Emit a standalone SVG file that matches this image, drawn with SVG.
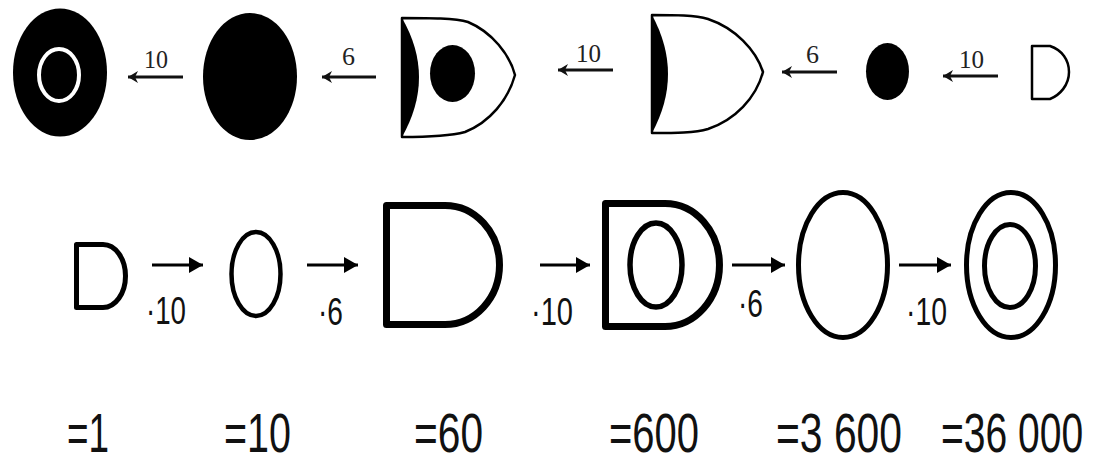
<svg xmlns="http://www.w3.org/2000/svg" width="1097" height="464" viewBox="0 0 1097 464">
<style>
.blk{fill:#000}
.ol{fill:#fff;stroke:#000;stroke-linejoin:round}
.ring{fill:none;stroke:#000}
.lt{font-family:"Liberation Serif",serif;font-size:26px;fill:#222}
.lb{font-family:"Liberation Sans",Arial,sans-serif;font-size:38px;fill:#111}
.val{font-family:"Liberation Sans",Arial,sans-serif;font-size:55px;fill:#111}
.at{stroke:#111;stroke-width:3;fill:none}
.ab{stroke:#000;stroke-width:3;fill:none}
</style>
<defs>
<marker id="ht" markerUnits="userSpaceOnUse" markerWidth="10" markerHeight="12" viewBox="0 0 10 12" refX="10" refY="6" orient="auto"><path d="M0,0 L10,6 L0,12 L3,6 Z" fill="#111"/></marker>
<marker id="hb" markerUnits="userSpaceOnUse" markerWidth="14" markerHeight="16" viewBox="0 0 14 16" refX="14" refY="8" orient="auto"><path d="M0,0 L14,8 L0,16 Z" fill="#000"/></marker>
</defs>
<rect width="1097" height="464" fill="#fff"/>

<g id="top1"><ellipse class="blk" cx="60" cy="72.5" rx="47" ry="64"/><ellipse cx="59" cy="75" rx="20" ry="26" fill="none" stroke="#fff" stroke-width="4"/></g>
<g id="top2"><ellipse class="blk" cx="250" cy="76.5" rx="47" ry="63.5"/></g>
<g id="top3"><path class="ol" stroke-width="2.5" d="M402,18 C430,18 455,18 468,22 C492,32 510,55 515,75 C508,100 490,122 465,132 C450,136 430,137 402,137 Z"/><path class="blk" d="M402,18 Q436,77 402,137 Z"/><ellipse class="blk" cx="452.5" cy="73.5" rx="22.5" ry="28.5"/></g>
<g id="top4"><path class="ol" stroke-width="2.5" d="M652,15 C675,15 695,15 708,19 C735,28 756,50 763,72 C756,98 735,120 708,129 C695,133 675,133 652,133 Z"/><path class="blk" d="M652,15 Q684,74 652,133 Z"/></g>
<g id="top5"><ellipse class="blk" cx="887.5" cy="71.5" rx="21.5" ry="28.5"/></g>
<g id="top6"><path class="ol" stroke-width="2.5" d="M1032,46 L1050,46 C1062,50 1069,60 1069,72 C1069,85 1060,95 1050,99 L1032,99 Z"/></g>

<g id="bot1"><path class="ol" stroke-width="5" d="M76.5,244.5 H103 A22.5,31.5 0 0 1 103,307.5 H76.5 Z"/></g>
<g id="bot2"><ellipse class="ring" stroke-width="4.5" cx="256" cy="274" rx="24.5" ry="42"/></g>
<g id="bot3"><path class="ol" stroke-width="7" d="M386.5,205.5 H445 A54.5,59.5 0 0 1 445,324.5 H386.5 Z"/></g>
<g id="bot4"><path class="ol" stroke-width="7" d="M605.5,203.5 H665 A54.5,61.5 0 0 1 665,326.5 H605.5 Z"/><ellipse class="ring" stroke-width="5.5" cx="656" cy="265" rx="26" ry="42"/></g>
<g id="bot5"><ellipse class="ring" stroke-width="5" cx="843" cy="265" rx="44.5" ry="72.5"/></g>
<g id="bot6"><ellipse class="ring" stroke-width="5" cx="1011" cy="265" rx="44.5" ry="72.5"/><ellipse class="ring" stroke-width="5" cx="1010" cy="266" rx="25.5" ry="41.5"/></g>

<g id="connectors">
<line class="at" x1="183" y1="77" x2="128" y2="77" marker-end="url(#ht)"/>
<line class="at" x1="376" y1="77" x2="322" y2="77" marker-end="url(#ht)"/>
<line class="at" x1="613" y1="70" x2="558" y2="70" marker-end="url(#ht)"/>
<line class="at" x1="837" y1="72" x2="782" y2="72" marker-end="url(#ht)"/>
<line class="at" x1="998" y1="76" x2="943" y2="76" marker-end="url(#ht)"/>
<line class="ab" x1="152" y1="265" x2="203" y2="265" marker-end="url(#hb)"/>
<line class="ab" x1="307" y1="265" x2="358" y2="265" marker-end="url(#hb)"/>
<line class="ab" x1="540" y1="265" x2="590" y2="265" marker-end="url(#hb)"/>
<line class="ab" x1="732" y1="265" x2="785" y2="265" marker-end="url(#hb)"/>
<line class="ab" x1="899" y1="265" x2="951" y2="265" marker-end="url(#hb)"/>
</g>

<g id="labels">
<text class="lt" x="144" y="68" textLength="24" lengthAdjust="spacingAndGlyphs">10</text>
<text class="lt" x="342" y="65" textLength="13" lengthAdjust="spacingAndGlyphs">6</text>
<text class="lt" x="576" y="62" textLength="25" lengthAdjust="spacingAndGlyphs">10</text>
<text class="lt" x="806" y="63" textLength="13" lengthAdjust="spacingAndGlyphs">6</text>
<text class="lt" x="959" y="68" textLength="25" lengthAdjust="spacingAndGlyphs">10</text>
<text class="lb" x="146" y="324" textLength="40" lengthAdjust="spacingAndGlyphs">·10</text>
<text class="lb" x="318" y="325" textLength="25" lengthAdjust="spacingAndGlyphs">·6</text>
<text class="lb" x="531" y="325" textLength="42" lengthAdjust="spacingAndGlyphs">·10</text>
<text class="lb" x="738" y="317" textLength="25" lengthAdjust="spacingAndGlyphs">·6</text>
<text class="lb" x="906" y="325" textLength="41" lengthAdjust="spacingAndGlyphs">·10</text>
</g>

<g id="values">
<text class="val" x="67" y="452" textLength="42" lengthAdjust="spacingAndGlyphs">=1</text>
<text class="val" x="224" y="452" textLength="67" lengthAdjust="spacingAndGlyphs">=10</text>
<text class="val" x="414" y="452" textLength="69" lengthAdjust="spacingAndGlyphs">=60</text>
<text class="val" x="609" y="452" textLength="90" lengthAdjust="spacingAndGlyphs">=600</text>
<text class="val" x="776" y="452" textLength="126" lengthAdjust="spacingAndGlyphs">=3 600</text>
<text class="val" transform="translate(941,452) scale(0.71,1)" x="0" y="0">=36 000</text>
</g>
</svg>
